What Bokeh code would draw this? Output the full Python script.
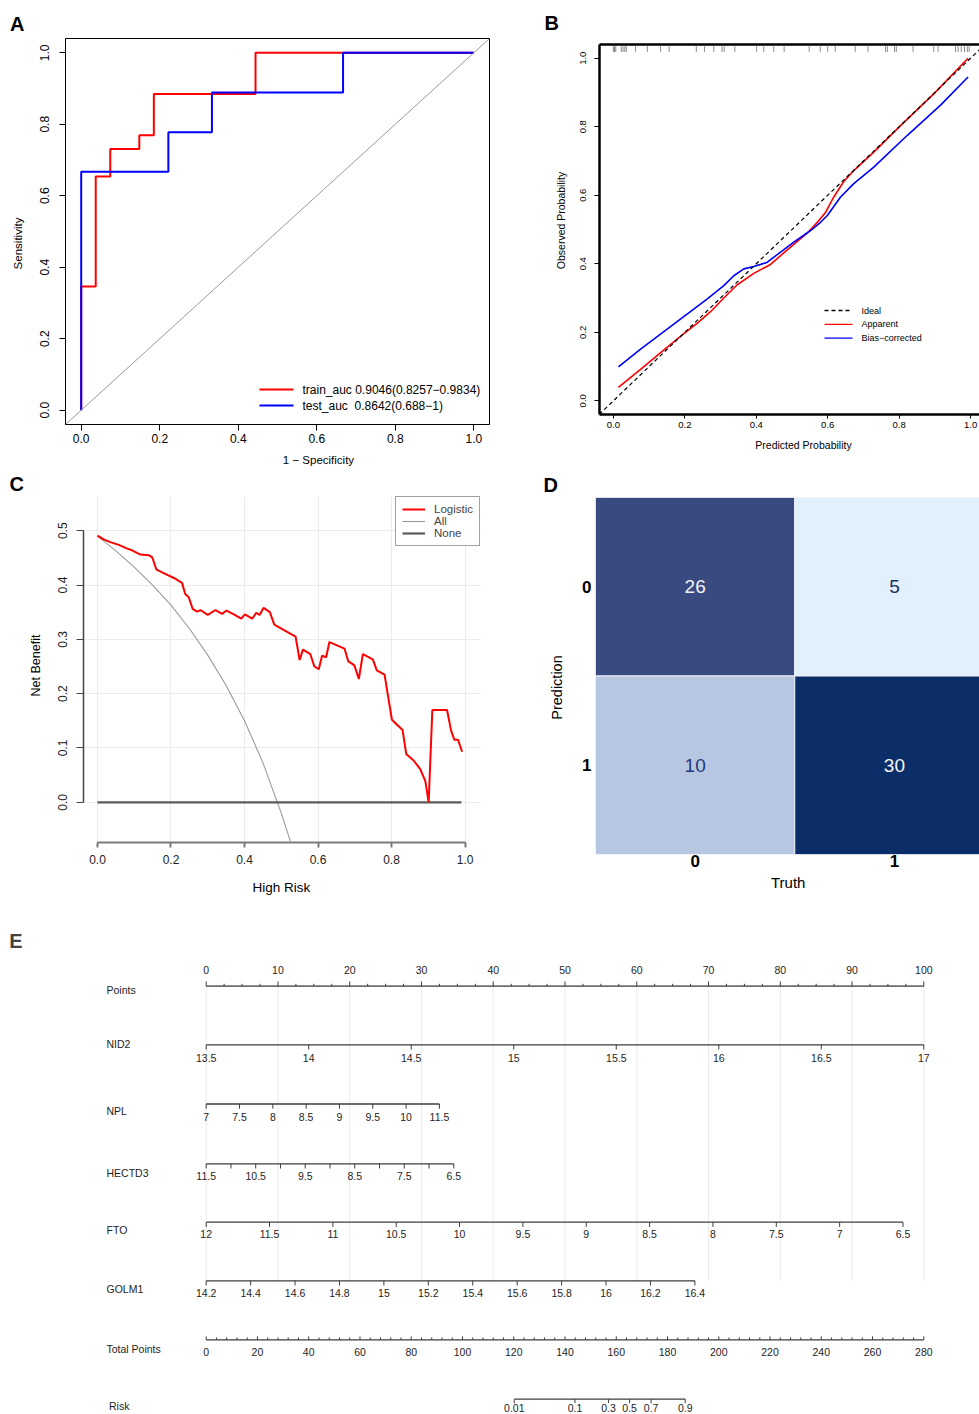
from bokeh.plotting import figure
from bokeh.models import (Range1d, LinearAxis, FixedTicker, Label, Slope, Legend,
                          LegendItem, PrintfTickFormatter, Title)
from bokeh.layouts import column, row
from bokeh.embed import file_html
from bokeh.resources import INLINE
from bokeh.core.properties import value

FONT = "Liberation Sans"

# ---------------- data ----------------
# A: ROC curves (vertices of the step curves)
roc_train_fpr = [0.0, 0.0, 0.037, 0.037, 0.074, 0.074, 0.148, 0.148, 0.185, 0.185, 0.444, 0.444, 1.0]
roc_train_tpr = [0.0, 0.346, 0.346, 0.654, 0.654, 0.731, 0.731, 0.769, 0.769, 0.885, 0.885, 1.0, 1.0]
roc_test_fpr = [0.0, 0.0, 0.222, 0.222, 0.333, 0.333, 0.667, 0.667, 1.0]
roc_test_tpr = [0.0, 0.667, 0.667, 0.778, 0.778, 0.889, 0.889, 1.0, 1.0]
roc_legend = ["train_auc 0.9046(0.8257\u22120.9834)", "test_auc\u00a0 0.8642(0.688\u22121)"]
unit_ticks = [0.0, 0.2, 0.4, 0.6, 0.8, 1.0]

# B: calibration curves
cal_app_x = [0.014, 0.076, 0.15, 0.2, 0.234, 0.272, 0.309, 0.346, 0.393, 0.44, 0.486, 0.543,
             0.57, 0.594, 0.617, 0.645, 0.673, 0.729, 0.804, 0.897, 0.993]
cal_app_y = [0.039, 0.092, 0.156, 0.198, 0.226, 0.26, 0.3, 0.338, 0.372, 0.398, 0.44, 0.49,
             0.52, 0.55, 0.595, 0.64, 0.672, 0.726, 0.803, 0.896, 1.0]
cal_bc_x = [0.014, 0.076, 0.169, 0.262, 0.309, 0.337, 0.365, 0.393, 0.43, 0.468, 0.505, 0.552,
            0.58, 0.599, 0.636, 0.673, 0.729, 0.823, 0.916, 0.993]
cal_bc_y = [0.099, 0.151, 0.224, 0.297, 0.336, 0.365, 0.385, 0.392, 0.404, 0.434, 0.463, 0.497,
            0.521, 0.541, 0.595, 0.634, 0.682, 0.775, 0.863, 0.945]
cal_rug = [0.0, 0.003, 0.0065, 0.022, 0.027, 0.032, 0.036, 0.062, 0.095, 0.132, 0.156, 0.232,
           0.255, 0.281, 0.304, 0.31, 0.34, 0.401, 0.421, 0.449, 0.478, 0.548, 0.579, 0.6,
           0.621, 0.677, 0.713, 0.762, 0.767, 0.787, 0.792, 0.839, 0.897, 0.909, 0.958,
           0.965, 0.974, 0.983, 0.991, 0.996]
cal_legend = ["Ideal", "Apparent", "Bias\u2212corrected"]

# C: decision curve
dca_t = [0.0, 0.017, 0.035, 0.058, 0.081, 0.094, 0.117, 0.14, 0.149, 0.16, 0.18, 0.208, 0.23,
         0.239, 0.248, 0.259, 0.271, 0.28, 0.3, 0.321, 0.339, 0.351, 0.371, 0.391, 0.401,
         0.421, 0.432, 0.441, 0.452, 0.469, 0.481, 0.539, 0.55, 0.559, 0.579, 0.59, 0.602,
         0.611, 0.622, 0.631, 0.672, 0.682, 0.699, 0.711, 0.722, 0.749, 0.76, 0.781, 0.801,
         0.83, 0.84, 0.86, 0.878, 0.892, 0.901, 0.911, 0.951, 0.962, 0.971, 0.981, 0.992]
dca_nb = [0.491, 0.484, 0.479, 0.474, 0.467, 0.464, 0.456, 0.455, 0.451, 0.429, 0.422, 0.413,
          0.404, 0.383, 0.378, 0.356, 0.351, 0.354, 0.345, 0.354, 0.347, 0.353, 0.346, 0.338,
          0.346, 0.338, 0.349, 0.345, 0.358, 0.35, 0.327, 0.305, 0.262, 0.281, 0.273, 0.25,
          0.245, 0.27, 0.267, 0.295, 0.283, 0.26, 0.252, 0.227, 0.273, 0.263, 0.243, 0.235,
          0.152, 0.133, 0.089, 0.077, 0.061, 0.039, 0.0, 0.17, 0.17, 0.132, 0.115, 0.115, 0.093]
dca_all_t = [0.0, 0.05, 0.1, 0.15, 0.2, 0.25, 0.3, 0.35, 0.4, 0.45, 0.5, 0.525]
dca_all_nb = [0.49, 0.463, 0.433, 0.40, 0.363, 0.32, 0.271, 0.215, 0.15, 0.073, -0.02, -0.072]
dca_none_t = [0.0, 0.99]
dca_none_nb = [0.0, 0.0]
dca_legend = ["Logistic", "All", "None"]
dca_y_ticks = [0.0, 0.1, 0.2, 0.3, 0.4, 0.5]

# D: confusion matrix (rows = prediction, columns = truth)
cm_classes = ["0", "1"]
cm_counts = [[26, 5], [10, 30]]

# E: nomogram scales (labels evenly spaced from 0 points to the end value)
points_labels = [str(v) for v in range(0, 101, 10)]
nomo_names = ["NID2", "NPL", "HECTD3", "FTO", "GOLM1"]
nid2_labels = ["13.5", "14", "14.5", "15", "15.5", "16", "16.5", "17"]
npl_labels = ["7", "7.5", "8", "8.5", "9", "9.5", "10", "11.5"]
hectd3_labels = ["11.5", "", "10.5", "", "9.5", "", "8.5", "", "7.5", "", "6.5"]
fto_labels = ["12", "11.5", "11", "10.5", "10", "9.5", "9", "8.5", "8", "7.5", "7", "6.5"]
golm1_labels = ["14.2", "14.4", "14.6", "14.8", "15", "15.2", "15.4", "15.6", "15.8", "16",
                "16.2", "16.4"]
nomo_labels = [nid2_labels, npl_labels, hectd3_labels, fto_labels, golm1_labels]
nomo_max_points = [100.0, 32.5, 34.5, 97.1, 68.1]
total_points_max = 280
total_points_labels = [str(v) for v in range(0, 281, 20)]
risk_labels = ["0.01", "0.1", "0.3", "0.5", "0.7", "0.9"]
risk_total_points = [120.2, 143.9, 157.0, 165.2, 173.6, 186.9]


# ---------------- helpers ----------------
def panel(w, h, ox, oy, frame, xr, yr, axes=True):
    l, r, t, b = frame
    kw = {}
    if not axes:
        kw = dict(x_axis_location=None, y_axis_location=None)
    p = figure(width=w, height=h, output_backend="svg", toolbar_location=None,
               x_range=Range1d(*xr), y_range=Range1d(*yr),
               min_border_left=int(l - ox), min_border_right=int(ox + w - r),
               min_border_top=int(t - oy), min_border_bottom=int(oy + h - b), **kw)
    p.frame_align = False
    p.background_fill_color = "white"
    p.border_fill_color = "white"
    p.outline_line_color = None
    p.grid.visible = False

    def fx(px):
        return xr[0] + (px - l) * (xr[1] - xr[0]) / (r - l)

    def fy(py):
        return yr[0] + (b - py) * (yr[1] - yr[0]) / (b - t)

    return p, fx, fy


def style_axis(ax, size, tick_out, standoff, color="black", line_color="black",
               line_width=1.0, ticks=None, fmt=None):
    ax.major_label_text_font = FONT
    ax.major_label_text_font_size = size
    ax.major_label_text_color = color
    ax.major_tick_out = int(tick_out)
    ax.major_tick_in = 0
    ax.minor_tick_out = 0
    ax.minor_tick_in = 0
    ax.minor_tick_line_color = None
    ax.major_label_standoff = int(standoff)
    ax.axis_line_color = line_color
    ax.axis_line_width = line_width
    ax.major_tick_line_color = line_color
    if ticks is not None:
        ax.ticker = FixedTicker(ticks=ticks)
    if fmt is not None:
        ax.formatter = PrintfTickFormatter(format=fmt)


def axis_title(p, side, pos, text, size, standoff, vertical=False):
    """An outer axis carrying one labelled position: used as the axis title."""
    ax = LinearAxis(ticker=FixedTicker(ticks=[pos]), major_label_overrides={pos: text})
    style_axis(ax, size, 0, standoff, line_color=None)
    if vertical:
        ax.major_label_orientation = "vertical"
    p.add_layout(ax, side)


def letter(p, text, offset, standoff, valign="bottom"):
    p.add_layout(Title(text=text, align="left", offset=offset, standoff=standoff,
                       vertical_align=valign, text_font=FONT, text_font_size="20px",
                       text_font_style="bold", text_color="black"), "above")


# ---------------- A: ROC ----------------
pA, fxA, fyA = panel(540, 470, 0, 0, (65, 489, 38, 424), (-0.04, 1.04), (-0.04, 1.04))
pA.outline_line_color = "black"
pA.outline_line_width = 1
style_axis(pA.xaxis[0], "12px", 6, 3, ticks=unit_ticks, fmt="%.1f")
style_axis(pA.yaxis[0], "12px", 6, 10, ticks=unit_ticks, fmt="%.1f")
pA.yaxis[0].major_label_orientation = "vertical"
axis_title(pA, "below", round(fxA(318), 4), "1 \u2212 Specificity", "11.5px", 8)
axis_title(pA, "left", round(fyA(243), 4), "Sensitivity", "11.5px", 13, vertical=True)
letter(pA, "A", -55.5, 8)
pA.add_layout(Slope(gradient=1, y_intercept=0, line_color="#9a9a9a", line_width=1))
pA.line(roc_train_fpr, roc_train_tpr, line_color="#FF0000", line_width=2)
pA.line(roc_test_fpr, roc_test_tpr, line_color="#0000FF", line_width=2)
for i, (txt, col) in enumerate(zip(roc_legend, ["#FF0000", "#0000FF"])):
    yy = fyA(389 + 16 * i)
    pA.line([fxA(259), fxA(293)], [yy, yy], line_color=col, line_width=2)
    pA.text(x=[fxA(302)], y=[yy], text=[txt], text_font=value(FONT), text_font_size="12px",
            text_align="left", text_baseline="middle", text_color="black")

# ---------------- B: calibration ----------------
pB, fxB, fyB = panel(439, 470, 540, 0, (599, 979, 44, 414), (-0.039, 1.025), (-0.04, 1.04))
style_axis(pB.xaxis[0], "9.5px", 4, 3, line_width=2.5, ticks=unit_ticks, fmt="%.1f")
style_axis(pB.yaxis[0], "9.5px", 5, 8, line_width=2.5, ticks=unit_ticks, fmt="%.1f")
pB.xaxis[0].major_tick_line_width = 1
pB.yaxis[0].major_tick_line_width = 1
pB.yaxis[0].major_label_orientation = "vertical"
top_axis = LinearAxis(ticker=FixedTicker(ticks=[]))
style_axis(top_axis, "9.5px", 0, 0, line_width=2.5)
pB.add_layout(top_axis, "above")
axis_title(pB, "below", round(fxB(803), 4), "Predicted Probability", "10.5px", 8)
axis_title(pB, "left", round(fyB(220), 4), "Observed Probability", "10.5px", 10, vertical=True)
letter(pB, "B", -55, 18, valign="top")
pB.segment(x0=cal_rug, y0=[1.018] * len(cal_rug), x1=cal_rug, y1=[1.035] * len(cal_rug),
           line_color="#8c8c8c", line_width=1)
pB.add_layout(Slope(gradient=1, y_intercept=0, line_color="black", line_width=1.2,
                    line_dash="4 3"))
pB.line(cal_app_x, cal_app_y, line_color="#FF0000", line_width=1.6)
pB.line(cal_bc_x, cal_bc_y, line_color="#0000FF", line_width=1.6)
for i, (txt, col, dash) in enumerate(zip(cal_legend, ["black", "#FF0000", "#0000FF"],
                                         ["4 3", "solid", "solid"])):
    yy = fyB(310 + 13.8 * i)
    pB.line([fxB(824), fxB(852)], [yy, yy], line_color=col, line_width=1.3, line_dash=dash)
    pB.text(x=[fxB(861)], y=[yy], text=[txt], text_font=value(FONT), text_font_size="9px",
            text_align="left", text_baseline="middle", text_color="black")

# ---------------- C: decision curve ----------------
pC, fxC, fyC = panel(540, 430, 0, 470, (83, 480, 496, 842), (-0.038, 1.042), (-0.074, 0.563))
style_axis(pC.xaxis[0], "12px", 5, 7, color="#222222", line_color="#7a7a7a", line_width=2,
           ticks=unit_ticks, fmt="%.1f")
pC.xaxis[0].major_tick_line_width = 2
pC.xaxis[0].bounds = (0, 1)
style_axis(pC.yaxis[0], "12px", 7, 9, color="#222222", line_color="#444444", line_width=1.5,
           ticks=dca_y_ticks, fmt="%.1f")
pC.yaxis[0].bounds = (0, 0.5)
pC.yaxis[0].major_label_orientation = "vertical"
axis_title(pC, "below", round(fxC(281), 4), "High Risk", "13.5px", 13)
axis_title(pC, "left", round(fyC(665), 4), "Net Benefit", "12.5px", 12, vertical=True)
letter(pC, "C", -74, 0, valign="top")
pC.xgrid.visible = True
pC.ygrid.visible = True
pC.xgrid.ticker = FixedTicker(ticks=unit_ticks)
pC.ygrid.ticker = FixedTicker(ticks=dca_y_ticks)
pC.grid.grid_line_color = "#EBEBEB"
pC.grid.grid_line_width = 1
r_all = pC.line(dca_all_t, dca_all_nb, line_color="#9a9a9a", line_width=1.1)
r_none = pC.line(dca_none_t, dca_none_nb, line_color="#5a5a5a", line_width=2.2)
r_log = pC.line(dca_t, dca_nb, line_color="#FF0000", line_width=2)
legC = Legend(items=[LegendItem(label=dca_legend[0], renderers=[r_log]),
                     LegendItem(label=dca_legend[1], renderers=[r_all]),
                     LegendItem(label=dca_legend[2], renderers=[r_none])],
              location="top_right", margin=0, padding=6, spacing=0,
              border_line_color="#444444", border_line_width=1.3,
              label_text_font=FONT, label_text_font_size="11.5px",
              glyph_width=23, glyph_height=12, label_height=12, label_standoff=9,
              background_fill_color="white", background_fill_alpha=1)
pC.add_layout(legC)

# ---------------- D: confusion matrix ----------------
pD, fxD, fyD = panel(439, 430, 540, 470, (595, 979, 497, 854), (0, 1.927), (2, 0))
cell_fill = {26: "#394A80", 5: "#E2EFFC", 10: "#B8C7E1", 30: "#0B2E69"}
cell_text = {26: "#F2F2F2", 5: "#1C2F6B", 10: "#1F3A7D", 30: "#F5F5F5"}
cx, cy, cv = [], [], []
for ri, rowvals in enumerate(cm_counts):
    for ci, v in enumerate(rowvals):
        cx.append(ci + 0.5)
        cy.append(ri + 0.5)
        cv.append(v)
pD.rect(x=cx, y=cy, width=1, height=1, fill_color=[cell_fill[v] for v in cv],
        line_color="#EEF3FA", line_width=1)
pD.text(x=cx, y=cy, text=[str(v) for v in cv], text_font=value(FONT), text_font_size="19px",
        text_align="center", text_baseline="middle", text_color=[cell_text[v] for v in cv])
for ax in (pD.xaxis[0], pD.yaxis[0]):
    style_axis(ax, "17px", 0, 0, line_color=None, ticks=[0.5, 1.5])
    ax.major_label_overrides = {0.5: cm_classes[0], 1.5: cm_classes[1]}
    ax.major_label_text_font_style = "bold"
pD.yaxis[0].major_label_orientation = "horizontal"
pD.yaxis[0].major_label_standoff = 4
axis_title(pD, "below", round(fxD(787.7), 4), "Truth", "15px", 4)
axis_title(pD, "left", round(fyD(687), 4), "Prediction", "14.5px", 14, vertical=True)
letter(pD, "D", -52, 0, valign="top")

# ---------------- E: nomogram ----------------
PX_PER_PT = (923.3 - 205.7) / 100.0
pE, fxE, fyE = panel(979, 514, 0, 900, (0, 979, 900, 1414),
                     (-205.7 / PX_PER_PT, (979 - 205.7) / PX_PER_PT), (514, 0), axes=False)
AX_COL = "#3c3c3c"
TXT_COL = "#1e1e1e"
NOMO_FONT = "10.5px"


def nomo_text(xs, ys, texts, align="center"):
    pE.text(x=xs, y=ys, text=texts, text_font=value(FONT), text_font_size=NOMO_FONT,
            text_align=align, text_baseline="middle", text_color=TXT_COL)


def nomo_scale(y, p0, p1, labels, tick_dir, label_y, tick_len=4.7):
    n = len(labels)
    xs = [p0 + (p1 - p0) * i / (n - 1) for i in range(n)]
    pE.line([p0, p1], [y, y], line_color=AX_COL, line_width=1.3)
    pE.segment(x0=xs, y0=[y] * n, x1=xs, y1=[y + tick_dir * tick_len] * n,
               line_color=AX_COL, line_width=1)
    keep = [(x, t) for x, t in zip(xs, labels) if t]
    nomo_text([k[0] for k in keep], [label_y] * len(keep), [k[1] for k in keep])


# vertical guide lines at every 10 points
grid_pts = list(range(0, 101, 10))
pE.segment(x0=grid_pts, y0=[85.7] * len(grid_pts), x1=grid_pts, y1=[380.3] * len(grid_pts),
           line_color="#EBEBEB", line_width=1)

# Points scale: ticks upward, labels above
y_pts = 85.7
pE.line([0, 100], [y_pts, y_pts], line_color="#6e6e6e", line_width=1.8)
minor = [v * 2.5 for v in range(41) if v % 4 != 0]
pE.segment(x0=minor, y0=[y_pts] * len(minor), x1=minor, y1=[y_pts - 2.4] * len(minor),
           line_color=AX_COL, line_width=1)
major = [float(s) for s in points_labels]
pE.segment(x0=major, y0=[y_pts] * len(major), x1=major, y1=[y_pts - 4.7] * len(major),
           line_color=AX_COL, line_width=1)
nomo_text(major, [69.0] * len(major), points_labels)

# predictor scales
line_ys = [144.3, 203.5, 263.3, 321.7, 380.3]
label_ys = [157.7, 216.0, 275.0, 333.3, 392.7]
for lab, mx, ly, ty in zip(nomo_labels, nomo_max_points, line_ys, label_ys):
    nomo_scale(ly, 0.0, mx, lab, +1, ty)

# Total Points scale: ticks upward, labels below
y_tot = 439.3
to_pts = 100.0 / total_points_max
pE.line([0, 100], [y_tot, y_tot], line_color=AX_COL, line_width=1.3)
tp_minor = [v * to_pts for v in range(0, total_points_max + 1, 4) if v % 20 != 0]
pE.segment(x0=tp_minor, y0=[y_tot] * len(tp_minor), x1=tp_minor, y1=[y_tot - 2.4] * len(tp_minor),
           line_color=AX_COL, line_width=1)
tp_major = [float(s) * to_pts for s in total_points_labels]
pE.segment(x0=tp_major, y0=[y_tot] * len(tp_major), x1=tp_major, y1=[y_tot - 3.4] * len(tp_major),
           line_color=AX_COL, line_width=1)
nomo_text(tp_major, [451.7] * len(tp_major), total_points_labels)

# Risk scale
risk_pts = [v * to_pts for v in risk_total_points]
y_risk = 498.7
pE.line([risk_pts[0], risk_pts[-1]], [y_risk, y_risk], line_color=AX_COL, line_width=1.3)
pE.segment(x0=risk_pts, y0=[y_risk] * len(risk_pts), x1=risk_pts,
           y1=[y_risk + 4.0] * len(risk_pts), line_color=AX_COL, line_width=1)
nomo_text(risk_pts, [507.3] * len(risk_pts), risk_labels)

# row names
name_x = fxE(106)
row_names = ["Points"] + nomo_names + ["Total Points", "Risk"]
row_name_y = [89.0, 143.0, 210.0, 272.0, 329.0, 388.0, 448.0, 505.5]
row_name_x = [name_x] * 7 + [fxE(108.5)]
nomo_text(row_name_x, row_name_y, row_names, align="left")
pE.add_layout(Label(x=fxE(15.5), y=40.0, text="E", text_font=FONT, text_font_size="20px",
                    text_font_style="bold", text_align="center", text_baseline="middle"))

layout = column(row(pA, pB), row(pC, pD), pE)
open("out.html", "w").write(file_html(layout, INLINE))
